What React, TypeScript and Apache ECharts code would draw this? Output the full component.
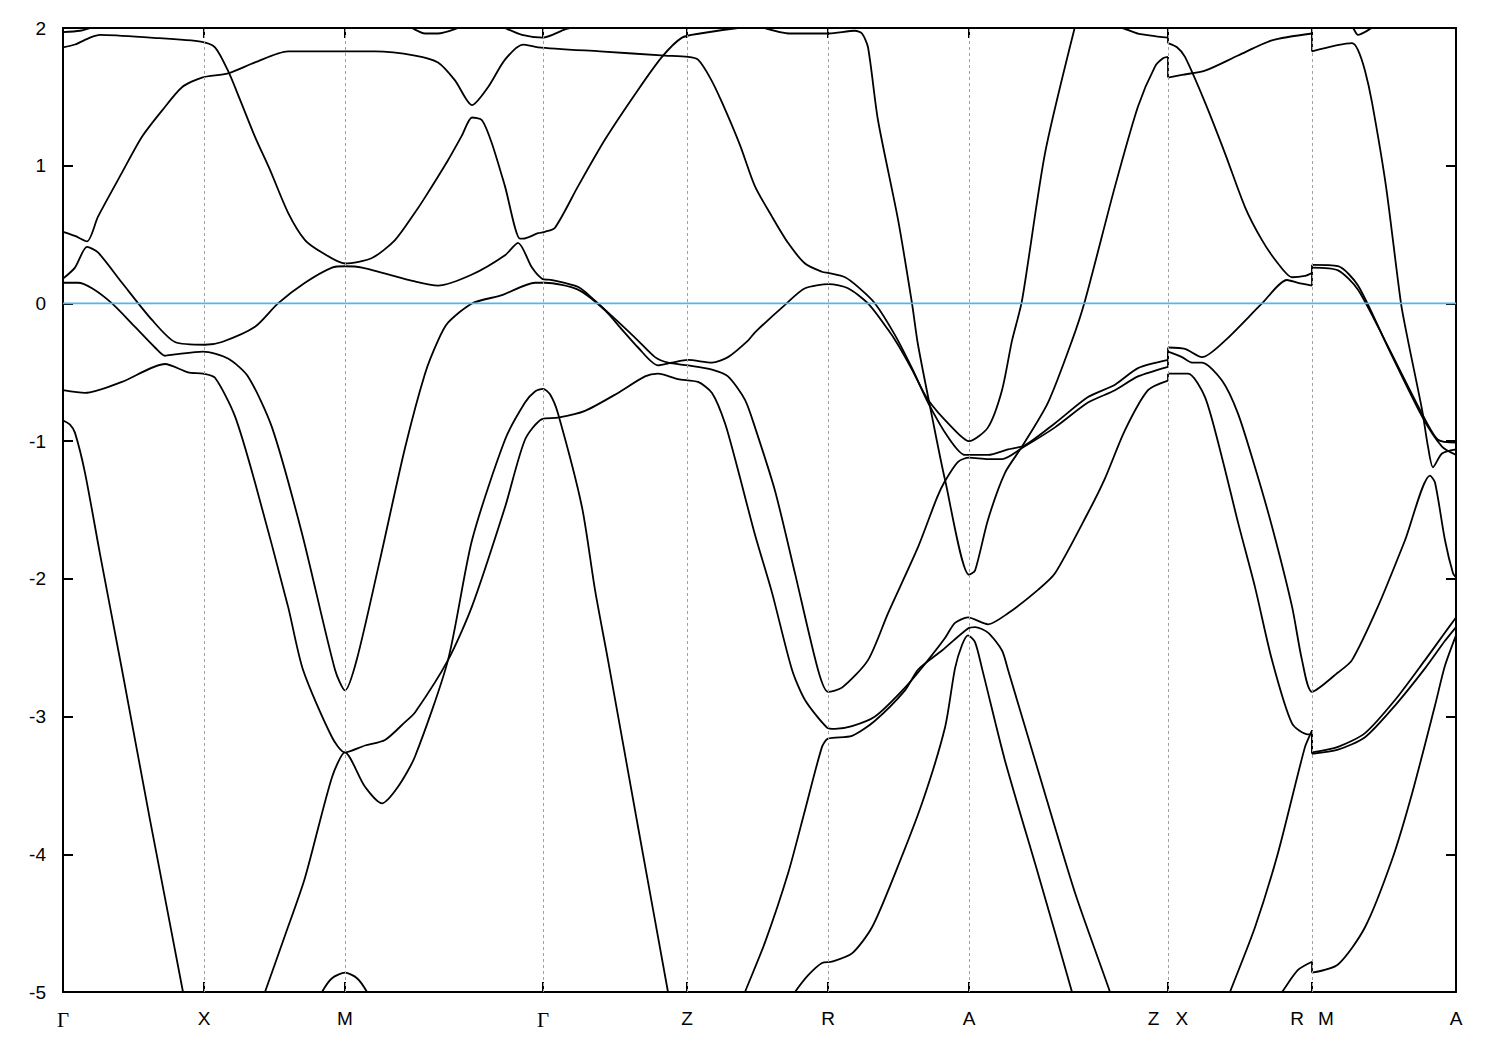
import React, { useEffect, useRef } from 'react';
import * as echarts from 'echarts';

// k-path positions of the high-symmetry points and their labels
const kTicks = [0, 141, 282, 480, 624, 765, 906, 1105, 1249, 1393];
const kLabels = ['Γ', 'X', 'M', 'Γ', 'Z', 'R', 'A', 'Z|X', 'R|M', 'A'];
const energyMin = -5;
const energyMax = 2;
const fermiLevel = 0;

// bands: [k, E (eV)]
const bandT1 = [[0, 1.97], [17, 1.98], [32, 2.01]];
const bandT2 = [[345, 2.02], [349, 2.0], [362, 1.96], [375, 1.96], [395, 2.0], [400, 2.02]];
const bandT3 = [[437, 2.02], [442, 2.0], [459, 1.95], [480, 1.93], [502, 1.99], [512, 2.01]];
const bandT6 = [[1282, 2.02], [1289, 2.01], [1295, 1.95], [1309, 2.0], [1315, 2.02]];

const bandA = [[0, 1.86], [12, 1.88], [27, 1.93], [37, 1.95], [87, 1.93], [139, 1.9], [152, 1.86], [165, 1.69], [177, 1.48], [192, 1.21], [207, 0.97], [225, 0.66], [242, 0.46], [259, 0.37], [282, 0.29], [309, 0.33], [332, 0.46], [352, 0.66], [362, 0.77], [385, 1.04], [399, 1.22], [409, 1.35], [419, 1.33], [429, 1.16], [442, 0.85], [457, 0.47], [460, 0.47], [475, 0.51], [482, 0.52], [492, 0.55], [515, 0.85], [542, 1.19], [575, 1.55], [599, 1.79], [619, 1.93], [637, 1.96], [675, 2.0], [697, 2.01]];

const bandB = [[0, 0.52], [12, 0.49], [24, 0.45], [35, 0.63], [59, 0.95], [79, 1.21], [99, 1.4], [119, 1.57], [139, 1.64], [165, 1.67], [192, 1.75], [225, 1.83], [312, 1.83], [352, 1.8], [375, 1.75], [392, 1.62], [409, 1.44], [425, 1.57], [442, 1.77], [460, 1.88], [475, 1.86], [537, 1.83], [602, 1.8], [625, 1.79], [635, 1.77], [647, 1.64], [659, 1.46], [677, 1.15], [692, 0.85], [709, 0.63], [725, 0.44], [742, 0.29], [759, 0.23], [766, 0.22], [782, 0.19], [795, 0.12], [812, 0.0], [832, -0.23], [849, -0.47], [865, -0.72], [885, -0.97], [902, -1.1], [925, -1.1], [945, -1.06], [962, -1.03], [992, -0.87], [1025, -0.68], [1052, -0.59], [1075, -0.47], [1105, -0.41], [1105, -0.32], [1122, -0.33], [1139, -0.39], [1162, -0.27], [1199, 0.0], [1224, 0.17], [1235, 0.15], [1249, 0.13], [1249, 0.28], [1275, 0.27], [1295, 0.13], [1325, -0.32], [1359, -0.82], [1379, -1.04], [1393, -1.1]];

const bandU = [[0, 0.18], [12, 0.26], [24, 0.41], [35, 0.37], [59, 0.15], [89, -0.12], [112, -0.28], [142, -0.3], [159, -0.28], [192, -0.17], [215, 0.0], [242, 0.15], [269, 0.26], [282, 0.27], [299, 0.26], [352, 0.16], [375, 0.13], [409, 0.21], [442, 0.35], [455, 0.44], [469, 0.26], [479, 0.18], [489, 0.17], [515, 0.12], [529, 0.04], [559, -0.16], [575, -0.27], [592, -0.39], [605, -0.43], [625, -0.45], [649, -0.48], [665, -0.53], [682, -0.7], [692, -0.9], [712, -1.36], [732, -1.96], [755, -2.66], [765, -2.82], [779, -2.79], [805, -2.59], [825, -2.25], [855, -1.77], [874, -1.41], [882, -1.29], [895, -1.15], [906, -1.12], [925, -1.13], [939, -1.13], [959, -1.05], [992, -0.9], [1025, -0.72], [1052, -0.63], [1075, -0.53], [1105, -0.46], [1105, -0.35], [1119, -0.39], [1129, -0.43], [1139, -0.43], [1159, -0.56], [1175, -0.8], [1192, -1.19], [1209, -1.62], [1229, -2.2], [1239, -2.59], [1249, -2.82], [1275, -2.68], [1289, -2.59], [1315, -2.2], [1342, -1.72], [1367, -1.25], [1372, -1.3], [1382, -1.72], [1390, -1.96], [1393, -1.99]];

const bandV = [[0, 0.15], [15, 0.15], [29, 0.11], [49, 0.0], [72, -0.17], [92, -0.32], [102, -0.38], [112, -0.37], [140, -0.35], [165, -0.4], [185, -0.53], [209, -0.9], [239, -1.67], [272, -2.66], [282, -2.81], [294, -2.58], [317, -1.86], [342, -1.05], [362, -0.51], [375, -0.27], [385, -0.14], [409, 0.0], [439, 0.06], [472, 0.15], [482, 0.15], [515, 0.1], [542, -0.05], [559, -0.19], [575, -0.32], [595, -0.45], [609, -0.43], [625, -0.41], [649, -0.43], [665, -0.39], [685, -0.27], [692, -0.21], [722, -0.01], [742, 0.11], [766, 0.14], [785, 0.11], [805, 0.0], [825, -0.19], [835, -0.3], [849, -0.48], [865, -0.7], [889, -0.9], [906, -1.0], [925, -0.9], [939, -0.63], [949, -0.27], [959, 0.02], [982, 1.09], [1012, 2.01]];

const bandP = [[0, -0.63], [22, -0.65], [59, -0.57], [102, -0.44], [125, -0.5], [140, -0.51], [152, -0.54], [172, -0.82], [192, -1.3], [225, -2.2], [240, -2.66], [269, -3.15], [282, -3.26], [302, -3.21], [322, -3.17], [342, -3.04], [352, -2.97], [385, -2.59], [409, -2.2], [442, -1.48], [462, -0.99], [479, -0.84], [495, -0.83], [522, -0.78], [555, -0.65], [582, -0.53], [595, -0.51], [615, -0.55], [635, -0.57], [649, -0.65], [662, -0.87], [675, -1.21], [692, -1.68], [709, -2.1], [729, -2.66], [742, -2.88], [764, -3.08], [772, -3.09], [789, -3.07], [812, -3.0], [842, -2.79], [865, -2.59], [882, -2.43], [892, -2.32], [905, -2.28], [925, -2.33], [945, -2.25], [975, -2.08], [992, -1.96], [1025, -1.52], [1042, -1.27], [1062, -0.92], [1085, -0.63], [1105, -0.56], [1105, -0.51], [1125, -0.51], [1142, -0.68], [1159, -1.12], [1175, -1.59], [1192, -2.06], [1209, -2.59], [1229, -3.05], [1245, -3.13], [1249, -3.13], [1249, -3.26], [1275, -3.22], [1302, -3.12], [1332, -2.88], [1362, -2.59], [1382, -2.39], [1393, -2.28]];

const bandQ = [[199, -5.06], [202, -5.0], [222, -4.59], [242, -4.17], [269, -3.44], [282, -3.26], [302, -3.51], [319, -3.63], [335, -3.51], [352, -3.29], [385, -2.59], [409, -1.72], [442, -0.99], [462, -0.72], [472, -0.64], [480, -0.62], [487, -0.66], [495, -0.8], [519, -1.48], [532, -2.08], [545, -2.59], [575, -3.8], [605, -5.0], [607, -5.09]];

const bandS0 = [[0, -0.85], [7, -0.88], [12, -0.94], [22, -1.23], [37, -1.82], [59, -2.66], [87, -3.75], [120, -5.0], [122, -5.1]];

const bandMB = [[255, -5.08], [259, -5.0], [269, -4.9], [282, -4.86], [294, -4.9], [304, -5.0], [308, -5.08]];

const bandR3 = [[679, -5.06], [682, -5.0], [702, -4.64], [725, -4.14], [742, -3.68], [759, -3.22], [765, -3.16], [789, -3.14], [812, -3.03], [842, -2.81], [855, -2.66], [879, -2.52], [905, -2.36], [912, -2.35], [925, -2.39], [939, -2.52], [945, -2.66], [975, -3.39], [1012, -4.28], [1047, -5.0], [1050, -5.08]];

const bandR4 = [[727, -5.06], [732, -5.0], [745, -4.88], [759, -4.79], [769, -4.78], [789, -4.72], [809, -4.53], [832, -4.14], [859, -3.63], [882, -3.08], [892, -2.65], [899, -2.48], [905, -2.41], [912, -2.46], [919, -2.65], [942, -3.32], [975, -4.14], [1009, -5.0], [1011, -5.08]];

const bandN1 = [[1164, -5.06], [1167, -5.0], [1192, -4.53], [1215, -3.99], [1242, -3.22], [1249, -3.1], [1249, -3.27], [1275, -3.24], [1302, -3.15], [1332, -2.92], [1362, -2.65], [1382, -2.45], [1393, -2.35]];

const bandN2 = [[1213, -5.06], [1219, -5.0], [1235, -4.84], [1249, -4.78], [1249, -4.86], [1275, -4.8], [1302, -4.53], [1329, -4.04], [1349, -3.56], [1372, -2.92], [1382, -2.63], [1393, -2.41]];

const bandT4 = [[697, 2.01], [727, 1.96], [766, 1.96], [792, 1.98], [799, 1.96], [805, 1.86], [815, 1.33], [835, 0.61], [849, 0.0], [855, -0.3], [869, -0.82], [882, -1.28], [906, -1.97], [912, -1.94], [925, -1.57], [942, -1.23], [959, -1.04], [985, -0.72], [1009, -0.27], [1022, 0.02], [1052, 0.85], [1075, 1.43], [1092, 1.72], [1100, 1.78], [1105, 1.79], [1105, 1.64], [1119, 1.66], [1142, 1.69], [1175, 1.8], [1209, 1.91], [1249, 1.96], [1249, 1.83], [1289, 1.89], [1295, 1.84], [1302, 1.69], [1309, 1.46], [1323, 0.85], [1338, 0.0], [1345, -0.27], [1359, -0.77], [1365, -1.04], [1370, -1.19], [1379, -1.09], [1393, -1.06]];

const bandT5 = [[1037, 2.01], [1059, 2.0], [1075, 1.96], [1105, 1.93], [1105, 1.89], [1114, 1.86], [1122, 1.79], [1142, 1.46], [1162, 1.09], [1182, 0.7], [1199, 0.46], [1215, 0.29], [1229, 0.19], [1242, 0.2], [1249, 0.22], [1249, 0.26], [1275, 0.24], [1295, 0.1], [1322, -0.27], [1359, -0.8], [1375, -0.99], [1393, -1.01]];

const bands = [bandT1, bandT2, bandT3, bandT6, bandA, bandB, bandU, bandV, bandP, bandQ, bandS0, bandMB, bandR3, bandR4, bandN1, bandN2, bandT4, bandT5];

const FONT = 'Liberation Sans, Arial, sans-serif';

// split a band where the k-path is discontinuous (two points at the same k)
function splitBand(d: number[][]) {
  const pieces: number[][][] = [];
  const jumps: number[][][] = [];
  let cur: number[][] = [d[0]];
  for (let i = 1; i < d.length; i++) {
    if (d[i][0] === d[i - 1][0]) {
      pieces.push(cur);
      jumps.push([d[i - 1], d[i]]);
      cur = [d[i]];
    } else {
      cur.push(d[i]);
    }
  }
  pieces.push(cur);
  return { pieces, jumps };
}

export default function App() {
  const ref = useRef<HTMLDivElement>(null);
  useEffect(() => {
    if (!ref.current) return;
    const chart = echarts.init(ref.current, null, { renderer: 'svg' });
    const kMax = kTicks[kTicks.length - 1];
    const formatK = (v: number) => {
      const i = kTicks.indexOf(v);
      if (i < 0) return '';
      const s = kLabels[i];
      if (s === 'Γ') return '{g|Γ}';
      if (s === 'Z|X') return '{zl|Z}{zr|X}';
      if (s === 'R|M') return '{rl|R}{rr|M}';
      return s;
    };
    const base = { fontSize: 19, fontFamily: FONT, color: '#000' };
    const lineStyle = { color: '#000', width: 1.8 };
    const bandSeries: any[] = [];
    bands.forEach((d, i) => {
      const { pieces, jumps } = splitBand(d);
      pieces.forEach((p, j) => {
        bandSeries.push({
          type: 'line', name: 'band' + i + '_' + j, data: p, symbol: 'none', showSymbol: false,
          silent: true, z: 3, smooth: 0.25, lineStyle,
        });
      });
      jumps.forEach((p, j) => {
        bandSeries.push({
          type: 'line', name: 'jump' + i + '_' + j, data: p, symbol: 'none', showSymbol: false,
          silent: true, z: 3, lineStyle,
        });
      });
    });
    const option: any = {
      animation: false,
      backgroundColor: '#fff',
      grid: { left: 63, top: 28, width: 1393, height: 964, containLabel: false, outerBoundsMode: 'none' },
      xAxis: [
        {
          type: 'value', min: 0, max: kMax, position: 'bottom',
          axisLine: { show: true, onZero: false, lineStyle: { color: '#000', width: 2 } },
          axisTick: { show: true, inside: true, length: 10, customValues: kTicks, lineStyle: { color: '#000', width: 2 } },
          axisLabel: {
            show: true, customValues: kTicks, margin: 17, formatter: formatK, ...base,
            rich: {
              g: { fontFamily: 'Liberation Serif, DejaVu Serif, serif', fontSize: 21, color: '#000' },
              zl: { ...base, padding: [0, 8, 0, 0] },
              zr: { ...base, padding: [0, 0, 0, 8] },
              rl: { ...base, padding: [0, 7, 0, 0] },
              rr: { ...base, padding: [0, 0, 0, 7] },
            },
          },
          splitLine: { show: false },
        },
        {
          type: 'value', min: 0, max: kMax, position: 'top',
          axisLine: { show: true, onZero: false, lineStyle: { color: '#000', width: 2 } },
          axisTick: { show: true, inside: true, length: 10, customValues: kTicks, lineStyle: { color: '#000', width: 2 } },
          axisLabel: { show: false },
          splitLine: { show: false },
        },
      ],
      yAxis: [
        {
          type: 'value', min: energyMin, max: energyMax, interval: 1, position: 'left',
          axisLine: { show: true, onZero: false, lineStyle: { color: '#000', width: 2 } },
          axisTick: { show: true, inside: true, length: 10, lineStyle: { color: '#000', width: 2 } },
          axisLabel: { show: true, margin: 17, ...base },
          splitLine: { show: false },
        },
        {
          type: 'value', min: energyMin, max: energyMax, interval: 1, position: 'right',
          axisLine: { show: true, onZero: false, lineStyle: { color: '#000', width: 2 } },
          axisTick: { show: true, inside: true, length: 10, lineStyle: { color: '#000', width: 2 } },
          axisLabel: { show: false },
          splitLine: { show: false },
        },
      ],
      series: [
        {
          type: 'line',
          data: [],
          z: 1,
          silent: true,
          markLine: {
            silent: true,
            symbol: ['none', 'none'],
            label: { show: false },
            lineStyle: { color: '#a0a0a0', type: [3, 3], width: 1 },
            data: kTicks.slice(1, -1).map((k) => ({ xAxis: k })),
          },
        },
        ...bandSeries,
        {
          type: 'line',
          name: 'Fermi level',
          data: [[0, fermiLevel], [kMax, fermiLevel]],
          symbol: 'none',
          silent: true,
          z: 5,
          lineStyle: { color: '#56b4e9', width: 1.8 },
        },
      ],
    };
    chart.setOption(option);
    return () => chart.dispose();
  }, []);
  return <div ref={ref} style={{ position: 'fixed', left: 0, top: 0, width: 1500, height: 1050 }} />;
}
